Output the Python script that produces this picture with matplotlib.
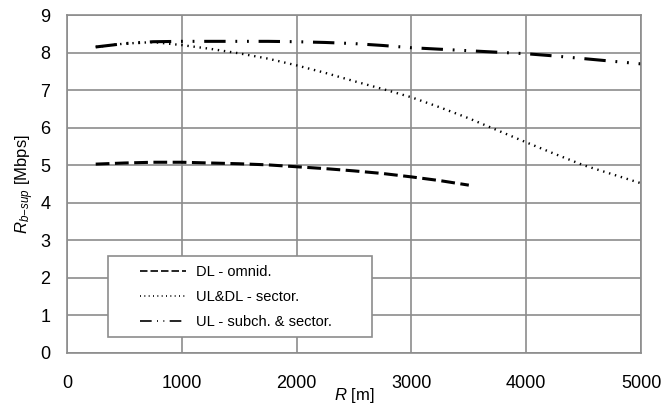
import matplotlib
matplotlib.use('Agg')
import matplotlib.pyplot as plt
from matplotlib.patches import Rectangle

plt.rcParams['font.family'] = ['Liberation Sans', 'DejaVu Sans']
plt.rcParams['mathtext.fontset'] = 'custom'
plt.rcParams['mathtext.it'] = 'Liberation Sans:italic'
plt.rcParams['mathtext.rm'] = 'Liberation Sans'

# data
r_dl = [250, 500, 750, 1000, 1250, 1500, 1750, 2000, 2250, 2500, 2750, 3000, 3250, 3500]
dl_omni = [5.03, 5.06, 5.08, 5.08, 5.06, 5.04, 5.01, 4.96, 4.91, 4.85, 4.78, 4.69, 4.59, 4.47]

r_all = [250, 500, 750, 1000, 1250, 1500, 1750, 2000, 2250, 2500, 2750, 3000,
         3250, 3500, 3750, 4000, 4250, 4500, 4750, 5000]
uldl_sector = [8.15, 8.24, 8.28, 8.2, 8.1, 7.98, 7.84, 7.66, 7.46, 7.24, 7.03, 6.81,
               6.54, 6.25, 5.93, 5.61, 5.3, 5.0, 4.76, 4.52]
ul_subch = [8.15, 8.24, 8.29, 8.3, 8.3, 8.3, 8.3, 8.29, 8.27, 8.24, 8.19, 8.13,
            8.09, 8.05, 8.01, 7.97, 7.91, 7.84, 7.77, 7.70]

labels = ['DL - omnid.', 'UL&DL - sector.', 'UL - subch. & sector.']

fig = plt.figure(figsize=(6.66, 4.07), dpi=100)
ax = fig.add_axes([0.1006, 0.1327, 0.8619, 0.8303])

ax.plot(r_dl, dl_omni, color='k', lw=2.2, linestyle=(0, (4.5, 1.8)), label=labels[0])
ax.plot(r_all, uldl_sector, color='k', lw=1.7, linestyle=(0, (0.6, 2.0)), label=labels[1])
ax.plot(r_all, ul_subch, color='k', lw=2.2,
        linestyle=(0, (7, 3.2, 0.6, 3.2, 0.6, 3.2)), label=labels[2])

ax.set_xlim(0, 5000)
ax.set_ylim(0, 9)
ax.set_xticks([0, 1000, 2000, 3000, 4000, 5000])
ax.set_yticks(range(10))
ax.grid(True, color='#8c8c8c', lw=1.2)
ax.set_axisbelow(True)
for s in ax.spines.values():
    s.set_color('#8c8c8c')
    s.set_linewidth(1.2)
ax.tick_params(length=0, labelsize=13)
ax.tick_params(axis='x', pad=16)
ax.tick_params(axis='y', pad=12)

ax.set_xlabel(r'$R$ [m]', fontsize=12)
ax.xaxis.set_label_coords(0.5, -0.097)
ax.set_ylabel(r'$R_{b\mathit{-sup}}$ [Mbps]', fontsize=12, labelpad=3)

# legend frame drawn separately so the entries can sit indented like the original
ax.add_patch(Rectangle((0.071, 0.047), 0.46, 0.24, transform=ax.transAxes,
                       facecolor='white', edgecolor='#8c8c8c', lw=1.2, zorder=4))
leg = ax.legend(loc='upper left', bbox_to_anchor=(0.11, 0.287), fontsize=10.5,
                frameon=False, handlelength=3.2, handletextpad=0.7,
                labelspacing=0.75, borderaxespad=0.25)
leg.set_zorder(5)
for line in leg.get_lines():
    line.set_linewidth(1.2)

fig.savefig('out.png', dpi=100)
